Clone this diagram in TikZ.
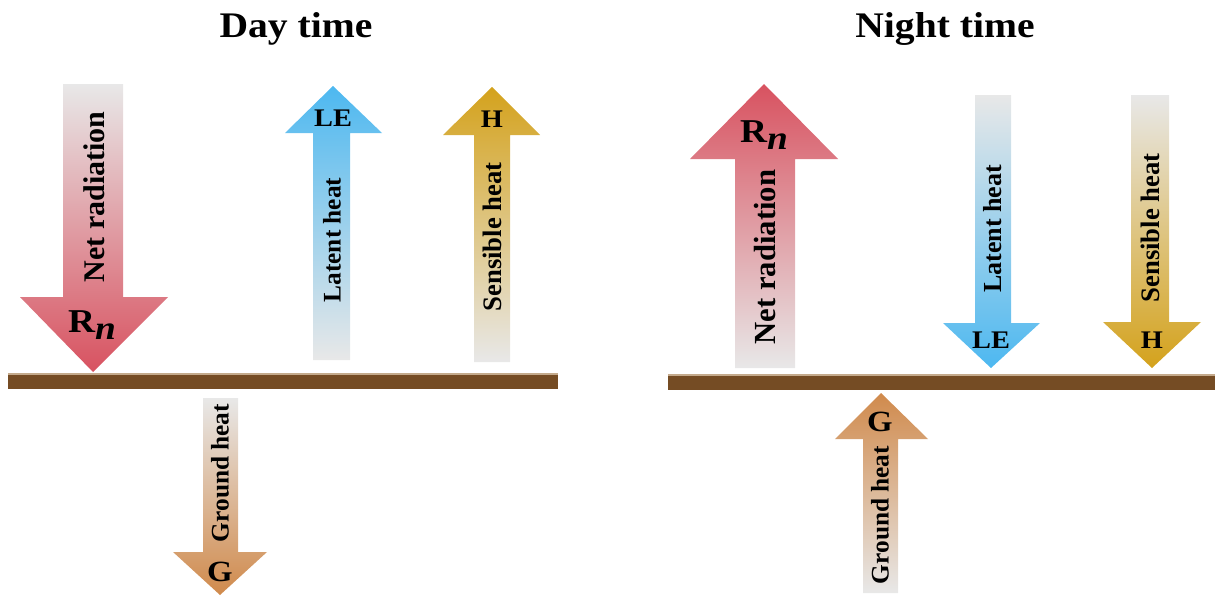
\documentclass[tikz,border=0pt]{standalone}
\usepackage{fontspec}
\setmainfont{Liberation Serif}
\newfontfamily\titlefont[FakeStretch=1.1]{Liberation Serif}
\newfontfamily\widefont[FakeStretch=1.12]{Liberation Serif}
\definecolor{rnred}{RGB}{216,82,96}
\definecolor{leblue}{RGB}{77,184,240}
\definecolor{hgold}{RGB}{212,162,28}
\definecolor{gorange}{RGB}{208,138,76}
\definecolor{pale}{RGB}{232,232,232}
\definecolor{soil}{RGB}{117,76,36}
\definecolor{soiltop}{RGB}{196,170,140}
\newcommand\fsz[1]{\fontsize{#1}{#1}\selectfont\bfseries}
\newcommand\Rn{R\raisebox{-0.22em}{\itshape n}}
\begin{document}
\begin{tikzpicture}[x=0.75pt,y=-0.75pt,
  lbl/.style={inner sep=0pt,text=black},
  vlbl/.style={lbl,rotate=90},
  sym/.style={lbl,font=\widefont\fsz{#1}},
  title/.style={lbl,font=\titlefont\fsz{27pt}}]
\useasboundingbox (0,0) rectangle (1215,596);
% ground bars
\fill[soil] (8,373) rectangle (558,389);
\fill[soiltop] (8,373) rectangle (558,374.5);
\fill[soil] (668,374) rectangle (1215,390);
\fill[soiltop] (668,374) rectangle (1215,375.5);
% titles
\node[title] (tday) at (296,29) {Day time};
\node[title] (tnight) at (945,29) {Night time};
% ---------- Day ----------
\shade[top color=pale,bottom color=rnred] (63,84) -- (123,84) -- (123,297) -- (168,297) -- (93,372) -- (20,297) -- (63,297) -- cycle;
\shade[top color=leblue,bottom color=pale] (313,360) -- (350,360) -- (350,133) -- (382,133) -- (333,86) -- (285,133) -- (313,133) -- cycle;
\shade[top color=hgold,bottom color=pale] (474,362) -- (510,362) -- (510,135) -- (540,135) -- (492,87) -- (443,135) -- (474,135) -- cycle;
\shade[top color=pale,bottom color=gorange] (203,398) -- (238,398) -- (238,552) -- (267,552) -- (220,595) -- (173,552) -- (203,552) -- cycle;
\node[vlbl,font=\fsz{22.5pt}] (dnet) at (94,197) {Net radiation};
\node[sym=25pt] (drn) at (92,325) {\Rn};
\node[sym=19pt] (dle) at (333,118) {LE};
\node[sym=19pt] (dh) at (492,119) {H};
\node[vlbl,font=\fsz{19pt}] (dlat) at (332,240) {Latent heat};
\node[vlbl,font=\fsz{20pt}] (dsen) at (492,237) {Sensible heat};
\node[sym=22pt] (dg) at (220,572) {G};
\node[vlbl,font=\fsz{19pt}] (dgr) at (220,473) {Ground heat};
% ---------- Night ----------
\shade[top color=rnred,bottom color=pale] (735,368) -- (795,368) -- (795,159) -- (838,159) -- (764,84) -- (690,159) -- (735,159) -- cycle;
\shade[top color=pale,bottom color=leblue] (975,95) -- (1011,95) -- (1011,323) -- (1040,323) -- (991,368) -- (943,323) -- (975,323) -- cycle;
\shade[top color=pale,bottom color=hgold] (1131,95) -- (1169,95) -- (1169,322) -- (1201,322) -- (1152,368) -- (1103,322) -- (1131,322) -- cycle;
\shade[top color=gorange,bottom color=pale] (863,593) -- (898,593) -- (898,439) -- (928,439) -- (881,393) -- (835,439) -- (863,439) -- cycle;
\node[sym=25pt] (nrn) at (764,135) {\Rn};
\node[vlbl,font=\fsz{23pt}] (nnet) at (765,257) {Net radiation};
\node[sym=19pt] (nle) at (991,340) {LE};
\node[vlbl,font=\fsz{19.5pt}] (nlat) at (993,229) {Latent heat};
\node[sym=19pt] (nh) at (1152,340) {H};
\node[vlbl,font=\fsz{20pt}] (nsen) at (1150,228) {Sensible heat};
\node[sym=22pt] (ng) at (880,422) {G};
\node[vlbl,font=\fsz{19pt}] (ngr) at (880,515) {Ground heat};
\end{tikzpicture}
\end{document}
